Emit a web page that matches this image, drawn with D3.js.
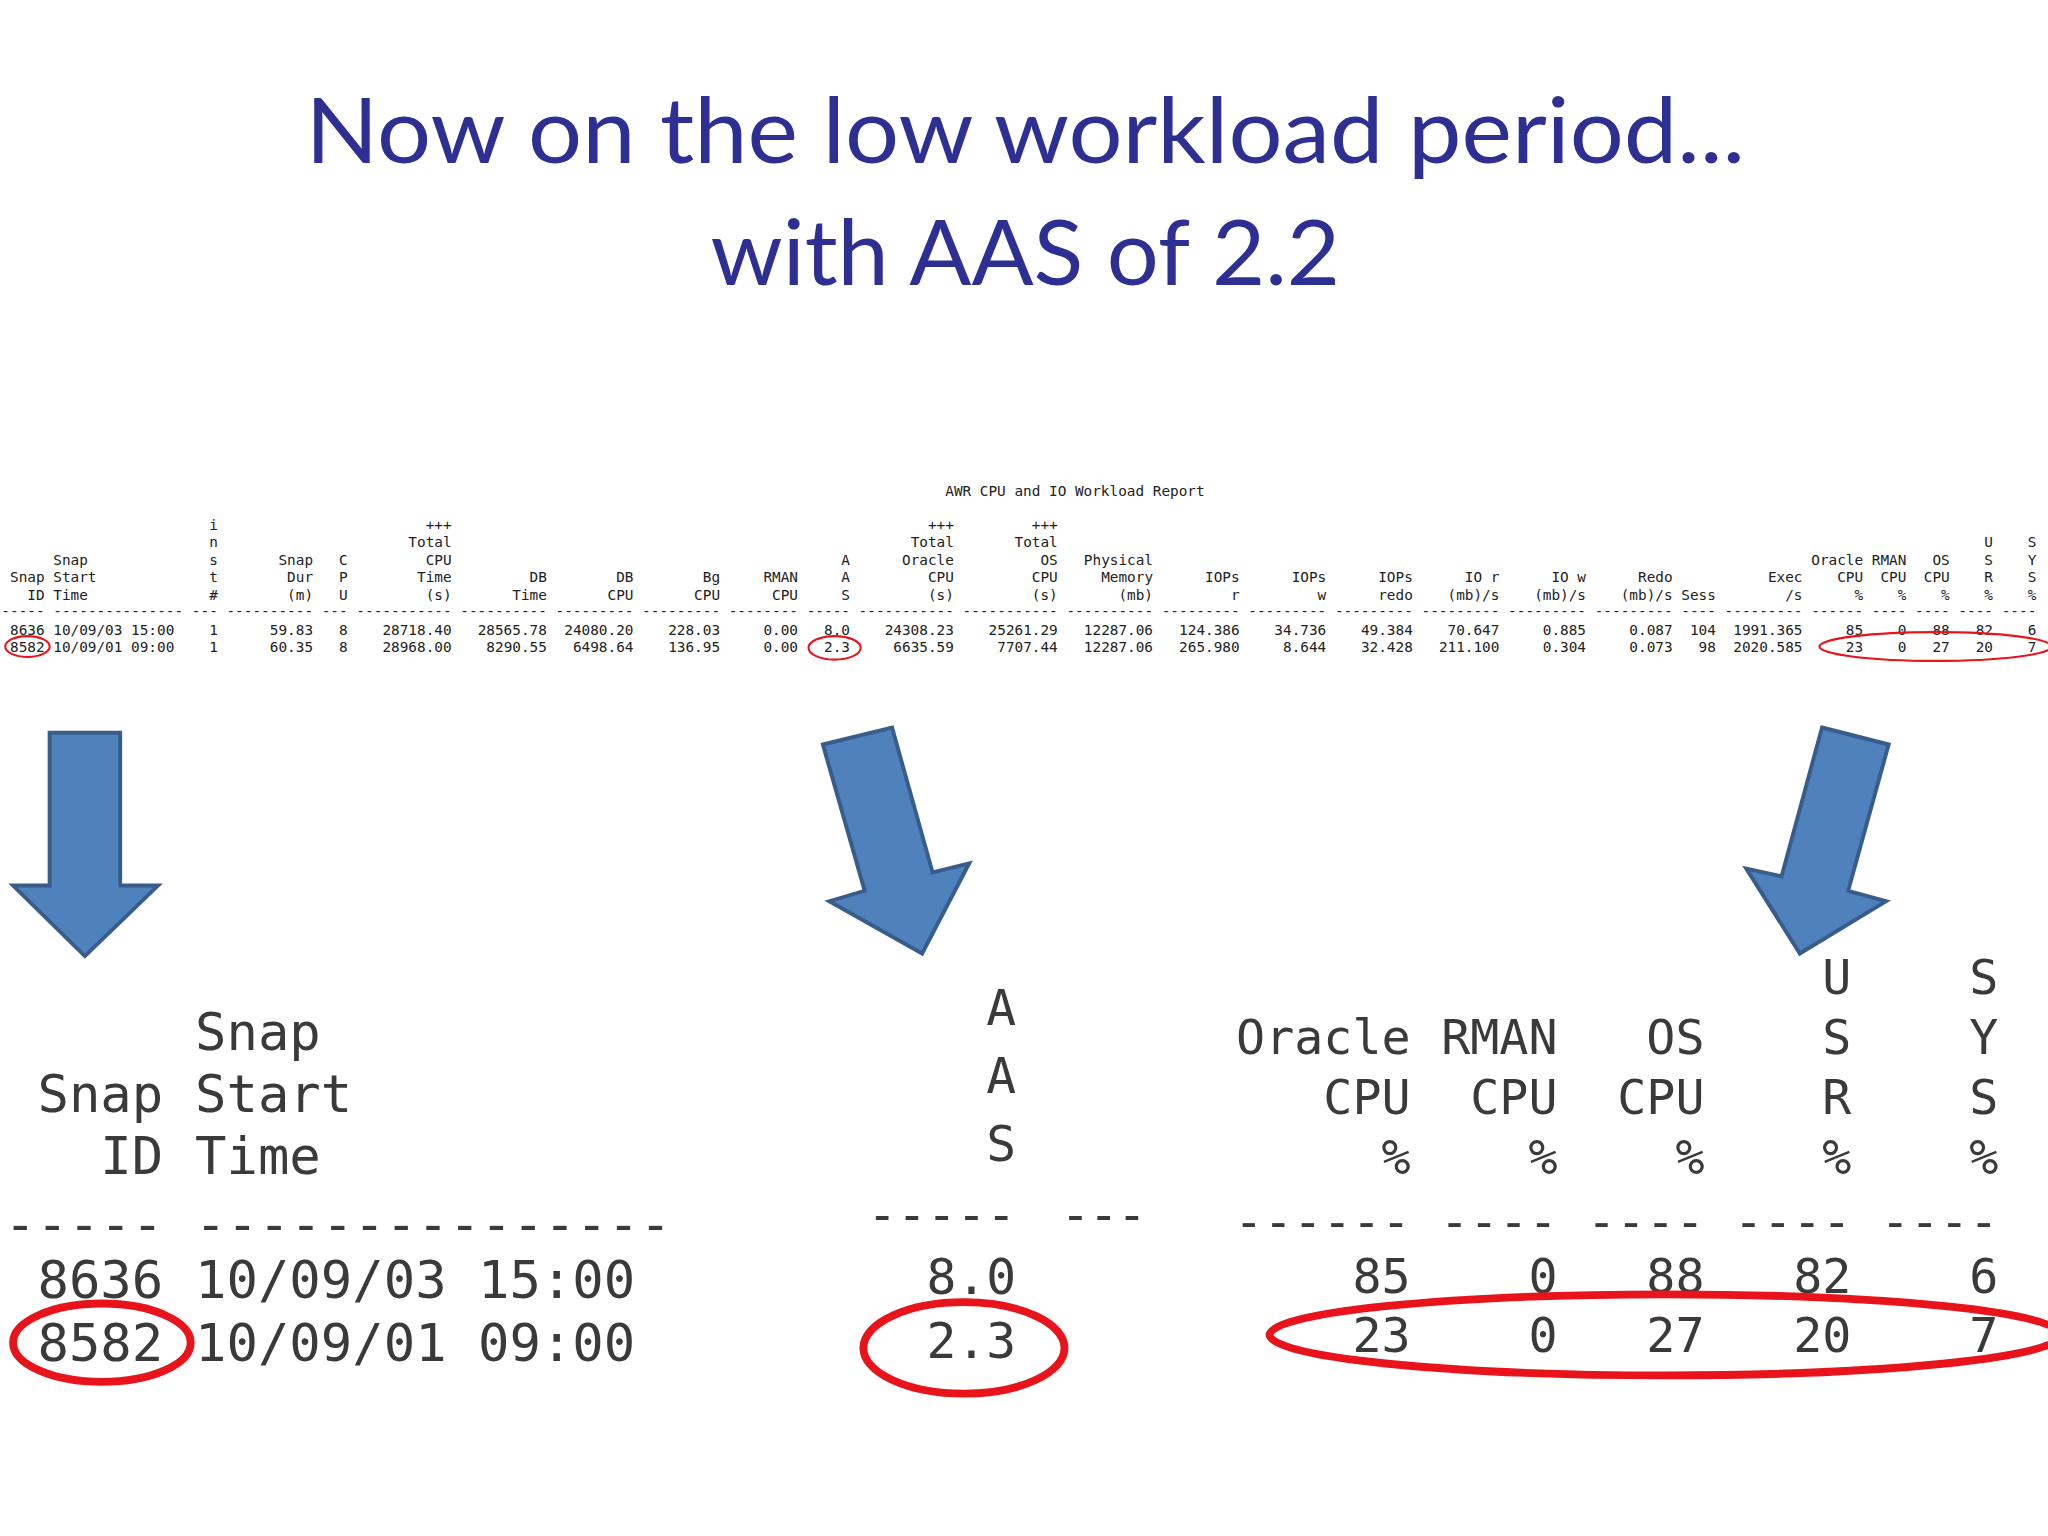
<!DOCTYPE html>
<html>
<head>
<meta charset="utf-8">
<script src="https://cdn.jsdelivr.net/npm/d3@7"></script>
<style>
  html, body { margin: 0; padding: 0; background: #fff; }
</style>
</head>
<body>
<div id="chart-area"></div>
<script>
// slide drawn in 1568x1176 units, scaled to 2048x1536

var titleLines = ["Now on the low workload period...", "with AAS of 2.2"];
var reportTitle = "AWR CPU and IO Workload Report";

// column widths (chars), header lines (5 rows, top->bottom), values
var colWidths = [5, 15, 3, 10, 3, 11, 10, 9, 9, 8, 5, 11, 11, 10, 9, 9, 9, 9, 9, 9, 4, 9, 6, 4, 4, 4, 4];
var colHeaders = [
  ["", "", "", "Snap", "ID"],
  ["", "", "Snap", "Start", "Time"],
  ["i", "n", "s", "t", "#"],
  ["", "", "Snap", "Dur", "(m)"],
  ["", "", "C", "P", "U"],
  ["+++", "Total", "CPU", "Time", "(s)"],
  ["", "", "", "DB", "Time"],
  ["", "", "", "DB", "CPU"],
  ["", "", "", "Bg", "CPU"],
  ["", "", "", "RMAN", "CPU"],
  ["", "", "A", "A", "S"],
  ["+++", "Total", "Oracle", "CPU", "(s)"],
  ["+++", "Total", "OS", "CPU", "(s)"],
  ["", "", "Physical", "Memory", "(mb)"],
  ["", "", "", "IOPs", "r"],
  ["", "", "", "IOPs", "w"],
  ["", "", "", "IOPs", "redo"],
  ["", "", "", "IO r", "(mb)/s"],
  ["", "", "", "IO w", "(mb)/s"],
  ["", "", "", "Redo", "(mb)/s"],
  ["", "", "", "", "Sess"],
  ["", "", "", "Exec", "/s"],
  ["", "", "Oracle", "CPU", "%"],
  ["", "", "RMAN", "CPU", "%"],
  ["", "", "OS", "CPU", "%"],
  ["", "U", "S", "R", "%"],
  ["", "S", "Y", "S", "%"]
];
var leftAligned = [1];
var row1 = ["8636", "10/09/03 15:00", "1", "59.83", "8", "28718.40", "28565.78", "24080.20", "228.03", "0.00", "8.0",
  "24308.23", "25261.29", "12287.06", "124.386", "34.736", "49.384", "70.647", "0.885", "0.087", "104", "1991.365",
  "85", "0", "88", "82", "6"];
var row2 = ["8582", "10/09/01 09:00", "1", "60.35", "8", "28968.00", "8290.55", "6498.64", "136.95", "0.00", "2.3",
  "6635.59", "7707.44", "12287.06", "265.980", "8.644", "32.428", "211.100", "0.304", "0.073", "98", "2020.585",
  "23", "0", "27", "20", "7"];

var W = 1568, H = 1176;
var svg = d3.select("#chart-area").append("svg")
    .attr("width", 2048)
    .attr("height", 1536)
    .attr("viewBox", "0 0 " + W + " " + H);

var g = svg.append("g");

// TITLE
var titleFit = [1102, 482];
g.selectAll(".title")
    .data(titleLines)
    .enter().append("text")
    .attr("class", "title")
    .attr("x", W / 2 + 1)
    .attr("y", function(d, i) { return 125 + i * 93; })
    .attr("text-anchor", "middle")
    .attr("font-family", "Lato")
    .attr("font-size", 70)
    .attr("fill", "#2e2f92")
    .attr("textLength", function(d, i) { return titleFit[i]; })
    .attr("lengthAdjust", "spacingAndGlyphs")
    .text(function(d) { return d; });

// monospace grid of columns
function drawGrid(opt) {
    var cols = opt.cols;
    var starts = [];
    var pos = 0;
    cols.forEach(function(c) { starts.push(pos); pos += colWidths[c] + 1; });
    var x = d3.scaleLinear().domain([0, 1]).range([opt.x0, opt.x0 + opt.cw]);
    var grp = g.append("g")
        .attr("font-family", "DejaVu Sans Mono")
        .attr("font-size", opt.fs)
        .attr("fill", opt.color)
        .attr("dominant-baseline", "central");

    cols.forEach(function(c, k) {
        var left = leftAligned.indexOf(c) >= 0;
        var xs = left ? x(starts[k]) : x(starts[k] + colWidths[c]);
        var anchor = left ? "start" : "end";
        colHeaders[c].forEach(function(h, li) {
            if (!h || li < opt.firstLine) return;
            grp.append("text")
                .attr("x", xs).attr("y", opt.headY(li))
                .attr("text-anchor", anchor)
                .attr("xml:space", "preserve")
                .text(h);
        });
        grp.append("text")
            .attr("x", x(starts[k])).attr("y", opt.dashY)
            .attr("textLength", opt.cw * colWidths[c])
            .text(d3.range(colWidths[c]).map(function() { return "-"; }).join(""));
        [row1, row2].forEach(function(r, ri) {
            grp.append("text")
                .attr("x", xs).attr("y", opt.rowY[ri])
                .attr("text-anchor", anchor)
                .attr("xml:space", "preserve")
                .text(r[c]);
        });
    });
}

// SMALL REPORT TABLE
g.append("text")
    .attr("x", 823).attr("y", 376)
    .attr("text-anchor", "middle")
    .attr("dominant-baseline", "central")
    .attr("font-family", "DejaVu Sans Mono")
    .attr("font-size", 11)
    .attr("fill", "#222")
    .text(reportTitle);

drawGrid({
    cols: d3.range(colWidths.length),
    x0: 1, cw: 6.63, fs: 11, color: "#222", firstLine: 0,
    headY: function(li) { return 402 + li * 13.3; },
    dashY: 468, rowY: [482, 495.5]
});

// red circles on small table
var red = "#e8131b";
g.append("ellipse").attr("cx", 21).attr("cy", 495).attr("rx", 17).attr("ry", 8)
    .attr("fill", "none").attr("stroke", red).attr("stroke-width", 1.6);
g.append("ellipse").attr("cx", 639).attr("cy", 496).attr("rx", 20).attr("ry", 9)
    .attr("fill", "none").attr("stroke", red).attr("stroke-width", 1.6);
g.append("ellipse").attr("cx", 1482).attr("cy", 495).attr("rx", 89).attr("ry", 11)
    .attr("fill", "none").attr("stroke", red).attr("stroke-width", 1.6);

// ARROWS
var arrows = [
    [[38, 561], [92, 561], [92, 678], [121, 678], [65, 732], [10, 678], [38, 678]],
    [[630, 570], [683, 557], [714, 668], [742, 661], [706, 730], [635, 690], [662, 682]],
    [[1395, 557], [1446, 570], [1415, 682], [1444, 690], [1378, 730], [1337, 665], [1364, 671]]
];
g.selectAll(".arrow")
    .data(arrows)
    .enter().append("polygon")
    .attr("class", "arrow")
    .attr("points", function(d) { return d.map(function(p) { return p.join(","); }).join(" "); })
    .attr("fill", "#4f81bd")
    .attr("stroke", "#385d8a")
    .attr("stroke-width", 3);

// ZOOMED EXCERPTS
var big = "#3a3a3a";
drawGrid({
    cols: [0, 1], x0: 3.5, cw: 24.3, fs: 40, color: big, firstLine: 2,
    headY: function(li) { return 790 + (li - 2) * 47.5; },
    dashY: 937, rowY: [980, 1028]
});
drawGrid({
    cols: [10], x0: 664, cw: 22.8, fs: 38, color: big, firstLine: 2,
    headY: function(li) { return 772 + (li - 2) * 52; },
    dashY: 930, rowY: [978, 1027]
});
g.append("text")
    .attr("x", 812).attr("y", 930)
    .attr("dominant-baseline", "central")
    .attr("font-family", "DejaVu Sans Mono").attr("font-size", 38)
    .attr("fill", big).attr("textLength", 66)
    .text("---");
drawGrid({
    cols: [22, 23, 24, 25, 26], x0: 945, cw: 22.5, fs: 37, color: big, firstLine: 1,
    headY: function(li) { return 748 + (li - 1) * 46; },
    dashY: 935, rowY: [977, 1022]
});

// red circles on excerpts
g.append("ellipse").attr("cx", 78).attr("cy", 1028).attr("rx", 68).attr("ry", 30)
    .attr("fill", "none").attr("stroke", red).attr("stroke-width", 6);
g.append("ellipse").attr("cx", 738).attr("cy", 1032).attr("rx", 77).attr("ry", 35)
    .attr("fill", "none").attr("stroke", red).attr("stroke-width", 6);
g.append("ellipse").attr("cx", 1275).attr("cy", 1022).attr("rx", 303).attr("ry", 31)
    .attr("fill", "none").attr("stroke", red).attr("stroke-width", 6);
</script>
</body>
</html>
